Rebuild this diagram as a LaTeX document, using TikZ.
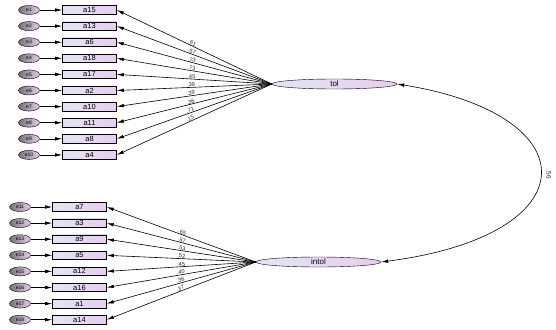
\documentclass[tikz,border=0pt]{standalone}
\usepackage{fontspec}
\setsansfont{Liberation Sans}
\usepackage{tikz}
\usetikzlibrary{shapes.geometric,arrows.meta,calc,positioning}
\definecolor{boxleft}{rgb}{0.89,0.90,0.95}
\definecolor{boxright}{rgb}{0.91,0.80,0.94}

\tikzset{
  item/.style={draw, rectangle, minimum width=54pt, minimum height=8.5pt, inner sep=0pt, semithick,
    left color=boxleft, right color=boxright, font=\sffamily\fontsize{7.5}{7.5}\selectfont},
  err/.style={draw, ellipse, minimum width=21pt, minimum height=9pt, inner sep=0pt,
    left color=black!55, right color=boxright, font=\sffamily\fontsize{5}{5}\selectfont},
  factor/.style={draw, ellipse, minimum width=125pt, minimum height=10pt, inner sep=0pt,
    left color=boxleft, right color=boxright, font=\sffamily\fontsize{8}{8}\selectfont},
  arr/.style={-{Latex[length=7pt,width=3.5pt]}, semithick},
  lbl/.style={font=\sffamily\fontsize{5.6}{5.6}\selectfont, text=black!85, sloped, above, inner sep=0.3pt}
}

\begin{document}
\begin{tikzpicture}[x=1pt,y=-1pt]
        \useasboundingbox (0,0) rectangle (556,329);
        % Latent factors
        \node[factor] (tol) at (334.5,84) {tol};
        \node[factor] (intol) at (318.5,262) {intol};
        % Items of tol
        \foreach \nm/\er/\ld [count=\i] in {a15/e1/.61, a13/e2/.57, a6/e3/.73, a18/e4/.73, a17/e5/.45,
                                        a2/e6/.39, a10/e7/.39, a11/e8/.36, a8/e9/.71, a4/e10/.15} {
          \node[item] (t\i) at (89.5,{10+(\i-1)*16.1}) {\nm};
          \node[err] (te\i) at (29,{10+(\i-1)*16.1}) {\er};
          \draw[arr] (te\i) -- (t\i);
          \draw[arr] (tol.west) -- (t\i.east) node[lbl, pos=0.52] {\ld};
        }
        % Items of intol
        \foreach \nm/\er/\ld [count=\i] in {a7/e11/.65, a3/e12/.57, a9/e13/.53, a5/e14/.52,
                                        a12/e15/.45, a16/e16/.40, a1/e17/.36, a14/e18/.37} {
          \node[item] (n\i) at (79.5,{207+(\i-1)*16.1}) {\nm};
          \node[err] (ne\i) at (20,{207+(\i-1)*16.1}) {\er};
          \draw[arr] (ne\i) -- (n\i);
          \draw[arr] (intol.west) -- (n\i.east) node[lbl, pos=0.5] {\ld};
        }
        % Correlation
        \draw[{Latex[length=7pt,width=3.5pt]}-{Latex[length=7pt,width=3.5pt]}, semithick]
          (tol.east) .. controls (590,115) and (590,235) .. (intol.east)
          node[pos=0.5, right=3pt, rotate=-90, anchor=south, font=\sffamily\fontsize{6.5}{6.5}\selectfont, text=black!85] {.56};
\end{tikzpicture}
\end{document}
